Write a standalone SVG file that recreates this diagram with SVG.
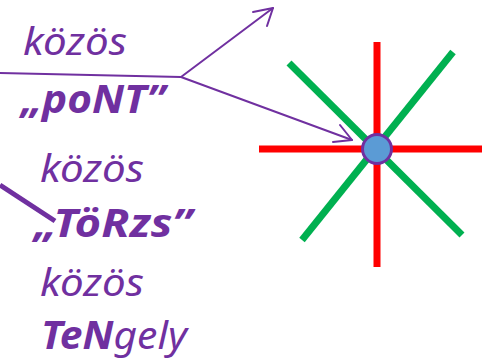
<svg xmlns="http://www.w3.org/2000/svg" width="482" height="361" viewBox="0 0 482 361">
<style>
.t{font-family:"Noto Sans","Open Sans","Liberation Sans",sans-serif;font-style:italic;font-size:39px;fill:#7030A0}
.b{font-weight:bold}
.c{fill:none;stroke:#7030A0;stroke-width:2;stroke-linecap:round;stroke-linejoin:round}
.red{stroke:#FF0000;stroke-width:7}
.green{stroke:#00B050;stroke-width:7}
</style>
<rect width="482" height="361" fill="#ffffff"/>
<g id="star">
<line class="green" x1="289" y1="63" x2="462" y2="235"/>
<line class="green" x1="453" y1="52" x2="302" y2="240"/>
<line class="red" x1="377" y1="42" x2="377" y2="267"/>
<line class="red" x1="259" y1="149" x2="482" y2="149"/>
<circle cx="377" cy="149" r="14.5" fill="#5B9BD5" stroke="#7030A0" stroke-width="3"/>
</g>
<g id="connectors">
<path class="c" d="M0 73 L181 77 L273 8"/>
<path class="c" d="M253 12 L273 8 L267 26"/>
<path class="c" d="M181 77 L352 140"/>
<path class="c" d="M340 125 L352 140 L333 142"/>
<line x1="0" y1="185" x2="55" y2="221" stroke="#7030A0" stroke-width="5"/>
</g>
<g id="label1"><text class="t" x="23" y="55" textLength="104" lengthAdjust="spacingAndGlyphs">közös</text></g>
<g id="label2"><text class="t b" x="21" y="113" textLength="144" lengthAdjust="spacingAndGlyphs">„poNT”</text></g>
<g id="label3"><text class="t" x="40" y="182" textLength="104" lengthAdjust="spacingAndGlyphs">közös</text></g>
<g id="label4"><text class="t b" x="34" y="237" textLength="158" lengthAdjust="spacingAndGlyphs">„TöRzs”</text></g>
<g id="label5"><text class="t" x="40" y="296" textLength="104" lengthAdjust="spacingAndGlyphs">közös</text></g>
<g id="label6"><text class="t" x="41" y="349" textLength="146" lengthAdjust="spacingAndGlyphs"><tspan class="b">TeN</tspan>gely</text></g>
</svg>
